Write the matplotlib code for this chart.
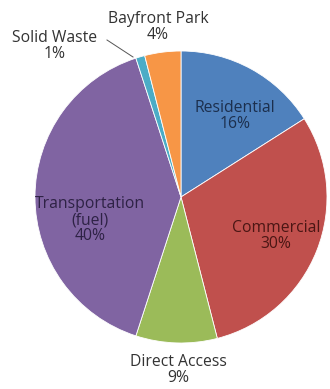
import matplotlib
matplotlib.use("Agg")
import matplotlib.pyplot as plt

categories = ["Residential", "Commercial", "Direct Access",
              "Transportation\n(fuel)", "Solid Waste", "Bayfront Park"]
shares = [16, 30, 9, 40, 1, 4]
colors = ["#4F81BD", "#C0504D", "#9BBB59", "#8064A2", "#4BACC6", "#F79646"]
text_colors = ["#1c2f4d", "#4a1614", "#333333", "#2e2245", "#333333", "#333333"]

W, H = 330, 389
fig = plt.figure(figsize=(W / 100, H / 100), dpi=100)
ax = fig.add_axes([0, 0, 1, 1])

cx, cy, r = 181, H - 197, 146
ax.pie(shares, colors=colors, startangle=90, counterclock=False,
       center=(cx, cy), radius=r, frame=True,
       wedgeprops=dict(linewidth=0.6, edgecolor="white"))
ax.set_xlim(0, W)
ax.set_ylim(0, H)
ax.set_aspect("equal")
ax.axis("off")

# label anchor points (pixel coordinates from the top-left corner)
label_xy = [(235, 116), (276, 236), (178, 370), (90, 220), (55, 46), (158, 27)]
for name, val, (lx, ly), tc in zip(categories, shares, label_xy, text_colors):
    ax.text(lx, H - ly, f"{name}\n{val}%", ha="center", va="center",
            fontsize=11.3, family="Open Sans", color=tc, linespacing=1.02)

# leader line for the thin Solid Waste slice
ax.plot([107, 133], [H - 40, H - 57], color="#555555", lw=0.7)

fig.savefig("out.png", dpi=100, facecolor="white")
